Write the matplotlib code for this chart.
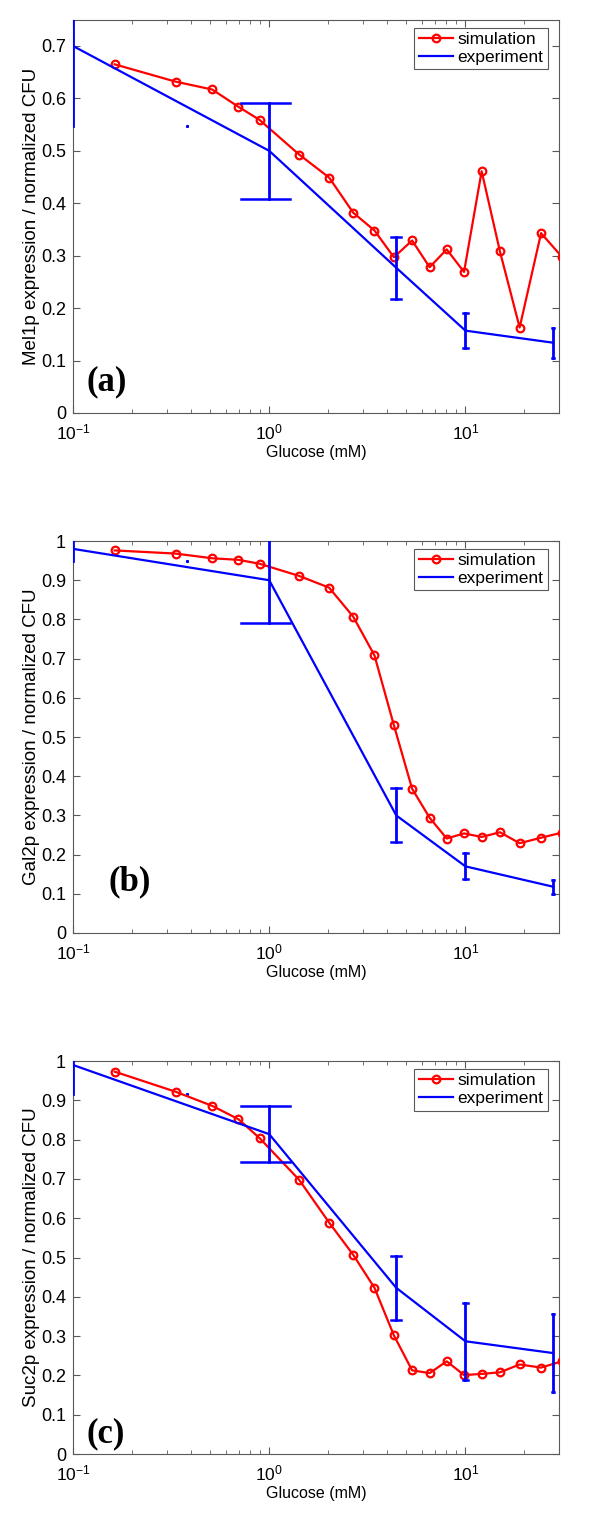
import numpy as np
import matplotlib.pyplot as plt
from matplotlib.ticker import FuncFormatter, LogLocator

plt.rcParams['font.family'] = ['Liberation Sans', 'DejaVu Sans']

# simulation (red circles)
glucose_sim = [0.163, 0.333, 0.512, 0.697, 0.893, 1.42, 2.02, 2.68, 3.44, 4.32,
               5.35, 6.57, 8.03, 9.84, 12.1, 15.0, 18.9, 24.3, 31.0]
mel1_sim = [0.665, 0.632, 0.617, 0.584, 0.559, 0.493, 0.449, 0.382, 0.348, 0.297,
            0.329, 0.278, 0.312, 0.269, 0.461, 0.308, 0.163, 0.343, 0.298]
gal2_sim = [0.976, 0.968, 0.956, 0.952, 0.942, 0.911, 0.881, 0.807, 0.708, 0.530,
            0.368, 0.294, 0.241, 0.254, 0.245, 0.257, 0.229, 0.243, 0.256]
suc2_sim = [0.973, 0.922, 0.886, 0.852, 0.804, 0.698, 0.589, 0.507, 0.423, 0.302,
            0.213, 0.206, 0.236, 0.201, 0.204, 0.208, 0.228, 0.220, 0.236]

# experiment (blue, with error bars)
glucose_exp = [0.1, 1.0, 4.44, 10.0, 28.0]
mel1_exp = [0.700, 0.500, 0.277, 0.157, 0.134]
mel1_err = [0.153, 0.092, 0.059, 0.034, 0.029]
gal2_exp = [0.980, 0.900, 0.300, 0.170, 0.118]
gal2_err = [0.032, 0.110, 0.069, 0.033, 0.0175]
suc2_exp = [0.990, 0.814, 0.423, 0.287, 0.257]
suc2_err = [0.075, 0.071, 0.081, 0.098, 0.099]

ylabels = ["Mel1p expression / normalized CFU",
           "Gal2p expression / normalized CFU",
           "Suc2p expression / normalized CFU"]
tags = ["(a)", "(b)", "(c)"]
ytops = [0.75, 1.0, 1.0]

sims = [mel1_sim, gal2_sim, suc2_sim]
exps = [mel1_exp, gal2_exp, suc2_exp]
errs = [mel1_err, gal2_err, suc2_err]

# axes boxes [left, bottom, width, height]
boxes = [[0.1217, 0.7285, 0.81, 0.2585],
         [0.1217, 0.3866, 0.81, 0.2577],
         [0.1217, 0.0440, 0.81, 0.2584]]
tag_pos = [(0.027, 0.058), (0.072, 0.11), (0.028, 0.031)]

red = '#ff0000'
blue = '#0000ff'

fig = plt.figure(figsize=(6, 15.21), dpi=100)

for i in range(3):
    ax = fig.add_axes(boxes[i])
    ax.set_xscale('log')

    ax.plot(glucose_sim, sims[i], '-o', color=red, lw=1.6, ms=5.5,
            mfc='none', mew=1.6, label='simulation', zorder=3)
    ax.plot(glucose_exp, exps[i], '-', color=blue, lw=1.6, label='experiment', zorder=3)

    # matlab style error bars, caps are fixed width in data units
    tee = (max(glucose_exp) - min(glucose_exp)) / 100
    for x, y, e in zip(glucose_exp, exps[i], errs[i]):
        ax.plot([x, x], [y - e, y + e], color=blue, lw=2, zorder=3)
        for yc in [y - e, y + e]:
            if x - tee > 0:
                ax.plot([x - tee, x + tee], [yc, yc], color=blue, lw=1.8, zorder=3)
            else:
                ax.plot([x + tee], [yc], 's', color=blue, ms=1.2)

    ax.set_xlim(0.1, 30)
    ax.set_ylim(0, ytops[i])
    ax.set_yticks(np.arange(0, ytops[i] + 0.001, 0.1))
    ax.yaxis.set_major_formatter(FuncFormatter(lambda v, p: '%g' % round(v, 2)))
    ax.xaxis.set_major_locator(LogLocator(base=10, numticks=10))
    ax.xaxis.set_minor_locator(LogLocator(base=10, subs=np.arange(2, 10), numticks=10))

    ax.tick_params(which='both', direction='in', top=True, right=True, color='0.35')
    ax.tick_params(which='major', length=5)
    ax.tick_params(which='minor', length=3)
    ax.tick_params(axis='y', labelsize=13, pad=5)
    ax.tick_params(axis='x', labelsize=12.5, pad=7)
    for s in ax.spines.values():
        s.set_color('0.35')

    ax.set_xlabel("Glucose (mM)", fontsize=11.5)
    ax.xaxis.set_label_coords(0.5, -0.082)
    ax.set_ylabel(ylabels[i], fontsize=13.5)
    ax.yaxis.set_label_coords(-0.068, 0.5)

    leg = ax.legend(loc='upper right', bbox_to_anchor=(0.977, 0.98), borderaxespad=0,
                    fancybox=False, framealpha=1, edgecolor='0.35', fontsize=12.5,
                    handlelength=2.0, handletextpad=0.25, borderpad=0.25,
                    labelspacing=0.15)
    leg.get_frame().set_linewidth(0.8)

    ax.text(tag_pos[i][0], tag_pos[i][1], tags[i], transform=ax.transAxes,
            family=['Liberation Serif', 'DejaVu Serif'], fontweight='bold',
            fontsize=25, va='baseline', ha='left')

fig.savefig("out.png", dpi=100)
